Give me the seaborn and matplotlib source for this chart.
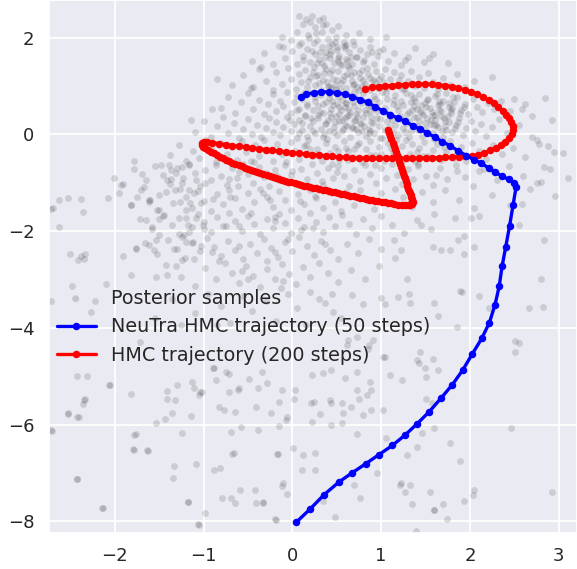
import numpy as np
import matplotlib
matplotlib.use("Agg")
import matplotlib.pyplot as plt
import seaborn as sns

# ---------------- data ----------------
samples_top = [(0.08,2.44),(0.15,2.38),(0.22,2.45),(0.30,2.36),(0.38,2.28),(0.12,2.28),(0.25,2.22),(0.45,2.15),(0.05,2.12),(0.33,2.12),(0.52,2.24),(0.18,2.05),(0.40,1.98),(0.60,2.05),(0.28,1.95),(-0.02,1.95),(0.68,1.94),(0.48,1.92),(0.10,1.90),(0.75,2.10),(0.58,1.92),(0.20,2.32),(0.35,2.40),(0.88,1.98),(-0.12,2.02),(1.05,2.02)]

samples_upper = [(-0.45,1.52),(-0.32,1.68),(-0.22,1.45),(-0.15,1.82),(-0.08,1.58),(0.00,1.72),(0.05,1.45),(0.08,1.85),(0.12,1.62),(0.16,1.76),(0.20,1.50),(0.24,1.88),(0.26,1.66),(0.30,1.55),(0.33,1.80),(0.36,1.42),(0.38,1.70),(0.42,1.58),(0.45,1.86),(0.47,1.48),(0.50,1.74),(0.53,1.62),(0.56,1.44),(0.58,1.82),(0.61,1.55),(0.64,1.70),(0.67,1.46),(0.70,1.84),(0.73,1.60),(0.76,1.74),(0.80,1.50),(0.84,1.66),(0.88,1.80),(0.92,1.45),(0.96,1.62),(1.02,1.76),(1.08,1.52),(1.15,1.68),(1.22,1.44),(1.30,1.60),(1.38,1.78),(1.48,1.50),(1.58,1.66),(0.28,1.48),(0.52,1.52),(0.43,1.66),(0.66,1.60),(0.22,1.72),(0.12,1.54),(0.90,1.70),(1.75,1.48),
    (-0.68,1.02),(-0.55,1.22),(-0.46,0.95),(-0.38,1.35),(-0.30,1.10),(-0.22,0.92),(-0.18,1.28),(-0.12,1.05),(-0.05,1.38),(-0.02,1.15),(0.04,0.94),(0.07,1.25),(0.10,1.08),(0.14,1.34),(0.17,0.98),(0.20,1.18),(0.23,1.30),(0.26,1.02),(0.29,1.22),(0.32,0.92),(0.35,1.12),(0.38,1.36),(0.40,1.00),(0.43,1.26),(0.46,1.14),(0.49,0.94),(0.52,1.32),(0.55,1.06),(0.58,1.20),(0.61,0.96),(0.64,1.38),(0.67,1.10),(0.70,1.28),(0.73,0.98),(0.76,1.16),(0.79,1.34),(0.82,1.04),(0.85,1.24),(0.88,0.92),(0.91,1.12),(0.94,1.32),(0.97,1.00),(1.00,1.20),(1.04,1.36),(1.07,0.96),(1.10,1.14),(1.14,1.28),(1.18,1.02),(1.22,1.22),(1.26,0.94),(1.30,1.10),(1.34,1.32),(1.38,1.00),(1.43,1.18),(1.48,0.96),(1.53,1.26),(1.58,1.08),(1.64,0.94),(1.70,1.16),(1.78,1.02),(1.86,1.24),(1.95,0.98),(2.05,1.10),(0.30,1.06),(0.50,1.12),(0.62,1.24),(0.80,1.12),(0.18,1.10),(0.98,1.14),(1.20,1.12),(0.44,0.96),(0.68,1.02),(-0.85,1.15),(2.25,1.18),
    (-0.44,0.98),(-0.35,1.39),(-0.10,1.80),(0.50,1.80),(0.60,1.84),(0.98,1.73),(1.02,1.09),(1.27,1.54),(1.54,1.58)]

samples_core = [(-0.80,0.55),(-0.72,0.78),(-0.64,0.45),(-0.58,0.68),(-0.50,0.86),(-0.44,0.52),(-0.38,0.72),(-0.32,0.42),(-0.27,0.62),(-0.22,0.84),(-0.18,0.48),(-0.14,0.70),(-0.10,0.58),(-0.06,0.88),(-0.02,0.44),(0.02,0.66),(0.05,0.80),(0.08,0.52),(0.11,0.74),(0.14,0.41),(0.17,0.62),(0.20,0.86),(0.23,0.50),(0.26,0.70),(0.29,0.58),(0.32,0.82),(0.35,0.44),(0.38,0.66),(0.41,0.76),(0.44,0.52),(0.47,0.88),(0.50,0.62),(0.53,0.42),(0.56,0.72),(0.59,0.56),(0.62,0.84),(0.65,0.46),(0.68,0.68),(0.71,0.78),(0.74,0.50),(0.77,0.64),(0.80,0.86),(0.83,0.44),(0.86,0.70),(0.89,0.58),(0.92,0.80),(0.95,0.48),(0.98,0.66),(1.01,0.88),(1.04,0.54),(1.07,0.74),(1.10,0.42),(1.13,0.62),(1.16,0.82),(1.19,0.50),(1.22,0.70),(1.25,0.60),(1.28,0.86),(1.31,0.46),(1.34,0.66),(1.37,0.76),(1.40,0.52),(1.43,0.84),(1.46,0.44),(1.49,0.64),(1.52,0.72),(1.55,0.54),(1.58,0.40),(1.61,0.80),(1.64,0.60),(1.67,0.48),(1.70,0.70),(1.73,0.86),(1.76,0.56),(1.79,0.44),(1.82,0.66),(1.86,0.78),(1.90,0.50),(1.94,0.62),(1.98,0.42),(2.03,0.74),(2.08,0.56),(2.14,0.46),(2.20,0.64),(2.27,0.52),(2.35,0.70),(2.45,0.48),(2.62,0.62),(2.85,0.75),(0.60,0.64),(0.70,0.58),(0.45,0.70),(1.50,0.56),(1.65,0.70),(1.80,0.54),(0.55,0.50),(1.35,0.50),(0.85,0.60),
    (-1.10,0.05),(-1.00,0.28),(-0.92,-0.05),(-0.85,0.18),(-0.78,0.36),(-0.72,0.02),(-0.66,0.24),(-0.60,-0.08),(-0.55,0.12),(-0.50,0.32),(-0.45,0.00),(-0.40,0.20),(-0.35,-0.06),(-0.30,0.14),(-0.26,0.34),(-0.22,0.04),(-0.18,0.26),(-0.14,-0.02),(-0.10,0.16),(-0.06,0.36),(-0.02,0.06),(0.02,0.22),(0.05,-0.08),(0.08,0.30),(0.11,0.10),(0.14,0.38),(0.17,-0.04),(0.20,0.18),(0.23,0.28),(0.26,0.02),(0.29,0.34),(0.32,0.12),(0.35,-0.06),(0.38,0.24),(0.41,0.06),(0.44,0.36),(0.47,0.16),(0.50,-0.02),(0.53,0.28),(0.56,0.08),(0.59,0.20),(0.62,0.38),(0.65,-0.06),(0.68,0.14),(0.71,0.30),(0.74,0.04),(0.77,0.22),(0.80,0.36),(0.83,-0.04),(0.86,0.12),(0.89,0.26),(0.92,0.02),(0.95,0.34),(0.98,0.18),(1.01,-0.08),(1.04,0.10),(1.07,0.28),(1.10,0.38),(1.13,0.04),(1.16,0.20),(1.19,-0.02),(1.22,0.32),(1.25,0.14),(1.28,0.24),(1.31,-0.06),(1.34,0.06),(1.37,0.36),(1.40,0.18),(1.43,0.28),(1.46,-0.04),(1.49,0.12),(1.52,0.34),(1.55,0.22),(1.58,0.02),(1.61,0.30),(1.64,0.16),(1.67,0.38),(1.70,-0.06),(1.73,0.10),(1.76,0.26),(1.80,0.04),(1.84,0.20),(1.88,0.34),(1.92,-0.02),(1.96,0.14),(2.01,0.28),(2.06,0.06),(2.12,0.22),(2.18,-0.04),(2.25,0.16),(2.33,0.32),(2.42,0.02),(2.55,0.20),(2.70,-0.05),(0.62,0.18),(0.48,0.26),(0.72,0.12),(1.72,0.28),(1.62,0.20),(0.40,0.30),(0.88,0.08),
    (-1.14,0.30),(-0.91,0.53),(2.93,0.30),(2.50,0.74),(2.59,0.53),(2.70,0.38)]

samples_dense = [(0.31,0.47),(0.37,0.21),(0.43,0.83),(0.49,0.39),(0.57,0.11),(0.63,0.53),(0.69,0.27),(0.75,0.91),(0.81,0.17),(0.87,0.49),(0.93,0.73),(0.99,0.31),(0.34,0.63),(0.41,0.97),(0.47,0.05),(0.53,0.57),(0.59,0.33),(0.66,0.79),(0.72,0.43),(0.78,0.07),(0.84,0.67),(0.91,0.23),(0.97,0.95),(0.36,0.01),(0.42,0.45),(0.51,0.77),(0.56,0.29),(0.61,0.65),(0.67,0.15),(0.73,0.37),(0.79,0.71),(0.86,0.03),(0.92,0.55),(0.46,0.61),(0.54,0.93),(0.64,0.41),(0.70,0.87),(0.76,0.23),(0.82,0.51),(0.89,0.35),
    (1.31,0.27),(1.37,0.59),(1.42,0.09),(1.47,0.41),(1.53,0.73),(1.59,0.19),(1.65,0.51),(1.71,0.33),(1.77,0.65),(1.83,0.13),(1.89,0.45),(1.34,0.81),(1.40,0.35),(1.45,0.61),(1.51,0.03),(1.57,0.47),(1.63,0.83),(1.69,0.07),(1.75,0.39),(1.81,0.77),(1.87,0.25),(1.93,0.57),(1.44,0.49),(1.56,0.29),(1.66,0.63),(1.72,0.17),(1.79,0.51),(1.61,0.41),(1.49,0.23),(1.38,0.69),
    (1.03,0.47),(1.09,0.15),(1.15,0.71),(1.21,0.39),(1.27,0.05),(1.06,0.85),(1.12,0.29),(1.18,0.59),(1.24,0.93),(1.29,0.43),
    (0.27,1.21),(0.33,1.47),(0.39,1.09),(0.45,1.33),(0.51,1.57),(0.57,1.13),(0.63,1.41),(0.69,1.05),(0.75,1.27),(0.81,1.53),(0.87,1.17),(0.24,1.39),(0.36,1.27),(0.48,1.03),(0.54,1.45),(0.66,1.23),(0.72,1.61),(0.78,1.01),(0.84,1.37),(0.93,1.09),(0.31,1.71),(0.41,1.83),(0.49,2.01),(0.27,2.09),(0.37,1.61),(0.59,1.79),(0.19,1.99),(0.35,2.27),(0.44,1.73),(0.62,1.51),
    (0.11,0.23),(0.17,0.59),(0.23,0.07),(0.29,0.41),(0.05,0.51),(0.13,0.85),(0.21,0.33),(0.26,0.77),(-0.03,0.29),(0.07,0.03),
    (0.15,-0.21),(0.27,-0.41),(0.39,-0.09),(0.51,-0.35),(0.63,-0.53),(0.75,-0.17),(0.87,-0.43),(0.99,-0.07),(1.11,-0.29),(1.23,-0.55),(1.35,-0.19),(1.47,-0.45),(1.59,-0.09),(1.71,-0.27),(1.83,-0.49),(0.45,-0.61),(0.69,-0.31),(0.93,-0.63),(1.17,-0.11),(1.41,-0.61),
    (-0.33,-1.21),(-0.47,-1.63),(-0.61,-1.07),(-0.75,-1.89),(-0.89,-1.33),(-1.03,-2.31),(-0.19,-1.71),(-0.05,-2.17),(0.09,-1.37),(0.23,-1.93),(0.37,-2.27),(-0.83,-2.61),(-0.57,-2.83),(-0.29,-2.61),(-0.13,-3.17),(-0.71,-0.93),(-0.43,-0.57),(-0.17,-0.87),(0.33,-0.97),(0.61,-1.19)]

samples_mid = [(-1.38,-0.42),(-1.28,-0.22),(-1.20,-0.55),(-1.12,-0.34),(-1.05,-0.48),(-0.98,-0.12),(-0.92,-0.30),(-0.86,-0.58),(-0.80,-0.18),(-0.74,-0.40),(-0.68,-0.26),(-0.62,-0.52),(-0.57,-0.14),(-0.52,-0.36),(-0.47,-0.56),(-0.42,-0.22),(-0.37,-0.44),(-0.32,-0.12),(-0.27,-0.32),(-0.22,-0.54),(-0.17,-0.20),(-0.12,-0.40),(-0.07,-0.58),(-0.02,-0.16),(0.03,-0.34),(0.08,-0.50),(0.13,-0.24),(0.18,-0.12),(0.23,-0.44),(0.28,-0.30),(0.33,-0.56),(0.38,-0.18),(0.43,-0.38),(0.48,-0.26),(0.53,-0.52),(0.58,-0.14),(0.63,-0.34),(0.68,-0.46),(0.73,-0.22),(0.78,-0.58),(0.83,-0.30),(0.88,-0.14),(0.93,-0.42),(0.98,-0.26),(1.03,-0.54),(1.08,-0.18),(1.13,-0.36),(1.18,-0.48),(1.23,-0.24),(1.28,-0.12),(1.33,-0.40),(1.38,-0.56),(1.43,-0.28),(1.48,-0.16),(1.53,-0.44),(1.58,-0.32),(1.63,-0.20),(1.68,-0.52),(1.73,-0.36),(1.78,-0.14),(1.84,-0.42),(1.90,-0.26),(1.96,-0.56),(2.02,-0.18),(2.10,-0.34),(2.18,-0.50),(2.26,-0.22),(2.36,-0.40),(2.48,-0.28),(2.62,-0.46),(2.78,-0.20),(2.95,-0.36),(0.60,-0.28),(0.20,-0.30),(1.00,-0.40),(1.40,-0.36),
    (2.76,-0.11),(2.88,-0.23),(3.05,-0.38),(2.84,-0.68),
    (-1.78,-0.72),(-1.65,-0.95),(-1.55,-0.66),(-1.46,-0.84),(-1.38,-1.02),(-1.30,-0.70),(-1.23,-0.90),(-1.16,-0.62),(-1.10,-0.80),(-1.04,-1.06),(-0.98,-0.74),(-0.92,-0.94),(-0.86,-0.64),(-0.80,-0.86),(-0.74,-1.04),(-0.68,-0.70),(-0.62,-0.90),(-0.56,-0.62),(-0.50,-0.82),(-0.44,-1.00),(-0.38,-0.68),(-0.32,-0.88),(-0.26,-1.06),(-0.20,-0.74),(-0.14,-0.94),(-0.08,-0.64),(-0.02,-0.84),(0.04,-1.02),(0.10,-0.72),(0.16,-0.92),(0.22,-0.62),(0.28,-0.80),(0.34,-1.04),(0.40,-0.70),(0.46,-0.90),(0.52,-0.66),(0.58,-0.86),(0.64,-1.06),(0.70,-0.74),(0.76,-0.96),(0.82,-0.64),(0.88,-0.82),(0.94,-1.00),(1.00,-0.70),(1.06,-0.90),(1.12,-0.62),(1.18,-0.84),(1.24,-1.02),(1.30,-0.72),(1.36,-0.92),(1.42,-0.66),(1.50,-0.86),(1.58,-1.04),(1.66,-0.70),(1.74,-0.92),(1.84,-0.64),(1.94,-0.88),(2.04,-1.06),(2.16,-0.72),(2.30,-0.94),(2.44,-0.66),(2.60,-0.86),(2.75,-1.00),(2.90,-0.72),(-0.60,-0.78),(0.00,-0.76),(0.50,-0.78),(-0.30,-0.80),
    (1.62,-0.83),(1.85,-0.75),(2.10,-0.75),(2.26,-0.75),(3.11,-0.90),(2.80,-0.98)]

samples_lower = [(-1.95,-1.22),(-1.82,-1.45),(-1.70,-1.15),(-1.60,-1.35),(-1.50,-1.56),(-1.42,-1.20),(-1.34,-1.42),(-1.27,-1.12),(-1.20,-1.30),(-1.13,-1.52),(-1.06,-1.18),(-0.99,-1.38),(-0.92,-1.58),(-0.85,-1.24),(-0.78,-1.44),(-0.71,-1.14),(-0.64,-1.32),(-0.57,-1.54),(-0.50,-1.22),(-0.43,-1.40),(-0.36,-1.12),(-0.29,-1.30),(-0.22,-1.50),(-0.15,-1.18),(-0.08,-1.36),(-0.01,-1.56),(0.06,-1.24),(0.13,-1.44),(0.20,-1.14),(0.27,-1.32),(0.34,-1.52),(0.41,-1.20),(0.48,-1.40),(0.55,-1.58),(0.62,-1.26),(0.69,-1.46),(0.76,-1.16),(0.84,-1.34),(0.92,-1.54),(1.00,-1.22),(1.08,-1.42),(1.16,-1.12),(1.25,-1.30),(1.35,-1.50),(1.46,-1.20),(1.58,-1.40),(1.72,-1.16),(1.88,-1.36),(2.05,-1.52),(2.25,-1.26),(2.45,-1.46),(-1.15,-1.42),(-0.70,-1.30),(-0.25,-1.36),(0.25,-1.28),
    (2.96,-1.28),(2.68,-1.13),(2.59,-1.43),(2.55,-1.88),(2.84,-2.18),(2.10,-1.69),(2.05,-2.33),(1.93,-2.48),(1.60,-1.65),(1.45,-1.88),(1.83,-1.73),(2.01,-1.73),(1.93,-2.10),(1.87,-2.18),(1.78,-2.40),(1.68,-2.40),(1.58,-2.33),(1.22,-2.40),(1.14,-2.18),
    (-1.72,-1.75),(-1.58,-1.95),(-1.46,-1.68),(-1.36,-1.88),(-1.28,-2.06),(-1.20,-1.72),(-1.13,-1.92),(-1.06,-1.64),(-0.99,-1.82),(-0.92,-2.02),(-0.85,-1.70),(-0.78,-1.90),(-0.71,-1.62),(-0.64,-1.80),(-0.57,-2.00),(-0.50,-1.68),(-0.43,-1.86),(-0.36,-2.06),(-0.29,-1.74),(-0.22,-1.94),(-0.15,-1.64),(-0.08,-1.84),(-0.01,-2.04),(0.06,-1.72),(0.13,-1.92),(0.20,-1.62),(0.27,-1.82),(0.34,-2.02),(0.41,-1.70),(0.48,-1.90),(0.56,-1.66),(0.64,-1.86),(0.72,-2.06),(0.80,-1.74),(0.90,-1.94),(1.00,-1.68),(1.12,-1.88),(1.26,-2.04),(1.40,-1.76),(1.56,-1.96),(-1.00,-1.96),(-0.60,-1.90),(-0.20,-1.80),(0.10,-1.98),
    (-1.66,-2.24),(-1.52,-2.48),(-1.40,-2.18),(-1.30,-2.38),(-1.21,-2.56),(-1.12,-2.22),(-1.04,-2.42),(-0.96,-2.14),(-0.88,-2.32),(-0.80,-2.52),(-0.72,-2.20),(-0.64,-2.40),(-0.56,-2.58),(-0.48,-2.26),(-0.40,-2.46),(-0.32,-2.16),(-0.24,-2.34),(-0.16,-2.54),(-0.08,-2.22),(0.00,-2.42),(0.08,-2.12),(0.16,-2.30),(0.24,-2.50),(0.32,-2.20),(0.42,-2.40),(0.52,-2.58),(0.62,-2.26),(0.74,-2.46),(0.86,-2.16),(1.00,-2.36),(1.16,-2.56),(-0.60,-2.30),(-0.90,-2.44),(-0.20,-2.44),
    (-1.42,-2.70),(-1.25,-2.94),(-1.10,-3.14),(-0.98,-2.76),(-0.86,-2.98),(-0.76,-2.66),(-0.68,-2.86),(-0.60,-3.08),(-0.52,-2.72),(-0.44,-2.92),(-0.36,-3.16),(-0.28,-2.78),(-0.20,-2.98),(-0.12,-2.68),(-0.04,-2.88),(0.04,-3.10),(0.12,-2.74),(0.20,-2.94),(0.30,-2.66),(0.40,-2.86),(0.52,-3.06),(0.66,-2.80),(0.82,-3.00),(0.98,-2.72),(-0.50,-3.00),(-0.10,-3.04),(1.29,-3.00),(2.80,-3.00)]

samples_left = [(-2.63,-1.36),(-2.53,-1.32),(-2.38,-1.34),(-2.36,-1.60),(-2.70,-1.53),(-2.63,-1.92),(-2.08,-1.31),(-2.01,-0.90),(-1.91,-1.03),(-1.78,-0.54),(-1.69,-0.82),(-1.67,-1.08),(-1.82,-1.46),(-1.75,-1.29),(-1.61,-1.36),(-1.65,-1.77),(-1.52,-1.56),(-1.50,-1.74),(-1.44,-1.67),(-1.58,-1.91),(-1.50,-2.08),(-1.54,-2.18),(-1.76,-2.34),(-1.91,-2.51),(-1.61,-2.29),(-1.56,-2.39),(-2.50,-2.47),(-2.38,-2.51),(-2.35,-2.58),(-1.82,-2.91),(-1.54,-2.94),(-2.48,-3.13),(-2.10,-3.10),(-1.41,-2.91),(-1.31,-2.72),(-1.24,-2.60),(-1.11,-2.58),(-1.33,-2.36),(-1.24,-2.12),(-1.16,-2.01),(-1.13,-2.25),(-1.20,-2.22),
    (-2.72,-1.54),(-2.34,-2.48),(-2.41,-2.59),(-1.93,-1.05),(-1.76,-2.36),
    (-1.39,-0.63),(-1.37,-0.74),(-1.31,-0.80),(-1.24,-0.67),(-1.16,-0.63),(-1.37,-0.93),(-1.32,-1.16),(-1.24,-1.01),(-1.16,-1.15),(-1.09,-0.94),(-1.11,-1.22),(-1.03,-1.42),(-0.98,-1.01),(-1.26,-1.39),(-1.20,-1.56),(-1.28,-1.73),(-1.18,-1.87),(-1.09,-1.73),(-1.01,-1.87),(-1.22,-2.08),(-1.50,-1.25),(-1.41,-0.94),(-1.48,-0.63),(-1.61,-1.39)]

samples_tail = [(-1.35,-3.40),(-1.10,-3.70),(-0.95,-3.30),(-0.80,-3.55),(-0.70,-3.90),(-0.55,-3.35),(-0.45,-3.65),(-0.30,-3.45),(-0.18,-3.85),(-0.05,-3.30),(0.05,-3.60),(0.15,-3.95),(0.30,-3.40),(0.55,-3.80),(0.80,-3.50),(-1.55,-3.80),(-0.85,-3.95),(-1.25,-3.95),
    (0.20,-3.25),(0.45,-3.29),(0.67,-3.32),(1.04,-3.51),(1.19,-3.36),(1.33,-3.49),(1.59,-3.49),(0.46,-3.67),(0.37,-3.49),(-2.27,-3.67),(-2.72,-3.45),(-2.45,-3.38),(-2.22,-3.45),
    (2.51,-4.28),(2.55,-4.31),(2.51,-4.50),(2.46,-6.08),(2.93,-7.39),(2.05,-7.35),(2.03,-7.46),(2.66,-3.60),(2.82,-3.56),(1.89,-3.23),(1.91,-3.26),(2.10,-3.34),(2.22,-3.60),(1.85,-3.98),(1.64,-3.75),(1.58,-4.65),(1.43,-4.73),(1.64,-4.88),(1.51,-5.48),(1.78,-6.38),(1.89,-6.75),(1.93,-7.58),(1.70,-7.65),(1.74,-7.95),(1.39,-8.21),(1.35,-7.65),(1.22,-7.20),(1.60,-7.77),(1.31,-3.30),(1.00,-3.38),
    (-2.42,-5.00),(-2.31,-5.00),(-2.06,-5.18),(-2.35,-5.49),(-2.36,-5.57),(-2.53,-5.77),(-2.40,-5.85),(-2.71,-6.13),(-1.82,-5.37),(-1.71,-4.29),(-1.78,-6.22),(-1.79,-6.51),(-1.63,-6.54),(-2.43,-7.12),(-2.13,-7.72),(-1.53,-5.97),(-1.41,-5.30),(-1.30,-5.18),(-1.32,-5.49),(-1.35,-5.77),(-1.24,-6.18),(-1.14,-5.82),(-1.33,-6.85),(-1.34,-7.10),(-1.08,-6.82),(-1.18,-7.60),(-0.98,-7.82),(-1.05,-8.08),(-1.13,-5.13),(-1.11,-5.25),(-1.02,-5.32),(-1.05,-5.39),(-0.88,-4.84),(-0.86,-5.08),(-0.75,-4.91),(-0.71,-4.95),(-0.83,-5.63),(-0.77,-5.70),(-0.69,-6.15),(-0.66,-6.59),(-0.88,-6.93),(-0.79,-7.52),(-0.69,-7.52),(-0.64,-7.63),(-0.59,-7.35),(-0.42,-7.35),(-0.41,-7.62),(-0.33,-7.62),(-0.49,-5.06),(-0.61,-5.29),(-0.28,-5.15),(-0.12,-5.29),(-0.15,-5.53),(-0.24,-5.77),(-0.06,-5.84),(-0.15,-6.04),(-0.07,-5.91),(-0.16,-6.61),(-0.11,-7.21),(-0.18,-7.97),(-0.34,-4.91),
    (-2.53,-5.78),(-2.43,-5.85),(-2.34,-5.48),(-2.72,-6.11),(-2.05,-5.18),(-2.43,-7.13),(-2.14,-7.73),(-1.76,-6.19),(-1.64,-6.53),(-1.78,-6.53),(-1.41,-5.48),(-1.43,-5.89),(-1.18,-7.61),(-1.06,-8.06),(-1.04,-5.33),(-0.89,-4.84),(-0.71,-5.33),(-0.64,-5.74),(-0.60,-5.25),(-0.39,-5.25),(-0.41,-5.63),(-0.58,-6.05),(-0.39,-6.11),(-0.17,-6.60),(-0.12,-7.28),(-0.06,-7.43),(-0.19,-7.95),(-0.33,-7.61),(-0.68,-6.60),(-0.81,-6.90),(0.35,-7.58),
    (0.02,-5.48),(0.21,-5.55),(0.31,-5.78),(0.44,-5.55),(0.56,-5.96),(0.66,-5.63),(0.75,-5.48),(0.89,-5.29),(1.02,-4.61),(0.85,-4.43),(0.62,-4.35),
    (0.63,-4.25),(0.73,-4.18),(0.86,-4.35),(0.91,-4.25),(1.44,-4.49),(1.40,-4.66),(1.51,-5.01),(1.04,-4.60),(1.10,-4.98),(1.23,-5.08),(0.87,-5.11),(0.73,-4.91),(0.59,-5.04),(0.44,-4.87),(0.35,-4.94),(0.22,-4.98),(0.03,-5.29),(0.24,-5.53),(0.42,-5.49),(0.56,-5.56),(0.57,-5.77),(0.89,-5.70),(0.80,-5.80),(0.84,-5.39),(0.73,-5.29),(1.02,-5.70),(0.44,-6.01),(0.73,-6.20),(1.06,-6.28),(0.22,-5.94),(0.01,-6.49),(0.12,-6.63),(0.26,-6.59),(0.11,-6.94),(0.26,-6.94),(0.69,-7.25),(0.76,-7.52),(0.95,-7.01),(1.21,-7.25),(1.27,-7.39),(1.33,-7.25),(1.29,-6.63),(1.40,-6.46),(1.55,-7.39),(1.59,-7.77),(0.48,-7.91),(1.46,-6.18),(1.59,-6.08),(1.57,-5.56),(1.49,-4.84)]

neutra_traj = [(0.094,0.77),(0.158,0.83),(0.241,0.86),(0.328,0.88),(0.415,0.88),(0.498,0.86),(0.589,0.83),(0.675,0.78),(0.762,0.72),(0.853,0.66),(0.935,0.57),(1.019,0.49),(1.102,0.41),(1.185,0.34),(1.272,0.27),(1.355,0.18),(1.438,0.11),(1.520,0.03),(1.608,-0.06),(1.690,-0.15),(1.780,-0.24),(1.870,-0.34),(1.960,-0.44),(2.045,-0.52),(2.130,-0.60),(2.210,-0.69),(2.283,-0.78),(2.367,-0.87),(2.440,-0.93),(2.500,-1.00),(2.520,-1.09),(2.487,-1.45),(2.446,-1.90),(2.404,-2.32),(2.362,-2.73),(2.330,-3.14),(2.283,-3.52),(2.220,-3.89),(2.133,-4.22),(2.027,-4.54),(1.917,-4.88),(1.800,-5.18),(1.672,-5.46),(1.544,-5.73),(1.408,-5.98),(1.268,-6.22),(1.128,-6.43),(0.977,-6.62),(0.827,-6.81),(0.672,-7.00),(0.524,-7.19),(0.358,-7.45),(0.204,-7.74),(0.045,-8.02)]

hmc_traj = [(1.081,0.09),(1.092,0.03),(1.105,-0.04),(1.116,-0.10),(1.129,-0.17),(1.140,-0.23),(1.153,-0.30),(1.164,-0.36),(1.175,-0.42),(1.188,-0.49),(1.199,-0.55),(1.210,-0.61),(1.221,-0.67),(1.232,-0.73),(1.244,-0.79),(1.255,-0.85),(1.266,-0.91),(1.275,-0.96),(1.287,-1.02),(1.296,-1.07),(1.305,-1.12),(1.315,-1.17),(1.324,-1.22),(1.332,-1.26),(1.340,-1.30),(1.348,-1.34),(1.352,-1.37),(1.354,-1.40),
    (1.350,-1.430),(1.330,-1.452),(1.300,-1.462),(1.265,-1.463),(1.230,-1.458),(1.190,-1.450),
    (1.145,-1.439),(1.110,-1.428),(1.075,-1.417),(1.040,-1.405),(1.005,-1.394),(0.970,-1.383),(0.935,-1.371),(0.900,-1.359),(0.865,-1.347),(0.830,-1.334),(0.795,-1.322),(0.760,-1.310),(0.725,-1.296),(0.690,-1.283),(0.655,-1.269),(0.620,-1.255),(0.585,-1.241),(0.550,-1.228),(0.515,-1.214),(0.480,-1.200),(0.445,-1.186),(0.410,-1.172),(0.375,-1.158),(0.340,-1.144),(0.305,-1.130),(0.270,-1.116),(0.235,-1.102),(0.200,-1.088),(0.165,-1.074),(0.130,-1.060),(0.095,-1.045),(0.060,-1.028),(0.025,-1.011),(-0.010,-0.993),(-0.045,-0.976),(-0.080,-0.959),(-0.115,-0.942),(-0.150,-0.922),(-0.185,-0.902),(-0.220,-0.882),(-0.255,-0.862),(-0.290,-0.842),(-0.325,-0.821),(-0.360,-0.800),(-0.395,-0.778),(-0.430,-0.756),(-0.465,-0.734),(-0.500,-0.711),(-0.535,-0.689),(-0.570,-0.662),(-0.605,-0.636),(-0.640,-0.610),(-0.675,-0.584),(-0.710,-0.558),(-0.745,-0.527),(-0.780,-0.494),(-0.815,-0.462),(-0.850,-0.429),(-0.885,-0.395),(-0.920,-0.361),(-0.955,-0.327),(-0.985,-0.290),
    (-1.005,-0.255),(-1.020,-0.220),(-1.020,-0.185),(-1.000,-0.160),(-0.960,-0.155),
    (-0.900,-0.170),(-0.825,-0.190),(-0.750,-0.212),(-0.675,-0.230),(-0.600,-0.247),(-0.525,-0.263),(-0.450,-0.280),(-0.375,-0.297),(-0.300,-0.313),(-0.225,-0.330),(-0.150,-0.347),(-0.075,-0.363),(0.000,-0.378),(0.075,-0.392),(0.150,-0.405),(0.225,-0.418),(0.300,-0.431),(0.375,-0.444),(0.450,-0.456),(0.525,-0.466),(0.600,-0.476),(0.675,-0.483),(0.750,-0.489),(0.825,-0.492),(0.900,-0.494),(0.975,-0.495),(1.050,-0.495),(1.125,-0.495),(1.200,-0.494),(1.275,-0.493),(1.350,-0.492),(1.425,-0.490),(1.500,-0.488),(1.575,-0.485),(1.650,-0.481),(1.725,-0.477),(1.800,-0.472),(1.875,-0.465),(1.950,-0.457),
    (2.020,-0.440),(2.090,-0.420),(2.160,-0.380),(2.230,-0.330),(2.290,-0.280),(2.350,-0.220),(2.400,-0.150),(2.440,-0.070),(2.470,0.010),(2.480,0.090),(2.480,0.170),(2.465,0.250),(2.440,0.330),(2.410,0.410),(2.370,0.490),(2.320,0.570),(2.270,0.640),(2.210,0.710),(2.150,0.770),(2.080,0.830),(2.010,0.880),(1.940,0.920),(1.870,0.960),(1.800,0.990),(1.720,1.010),(1.645,1.025),(1.570,1.035),(1.495,1.040),(1.420,1.040),(1.345,1.040),(1.270,1.030),(1.195,1.020),(1.120,1.010),(1.045,1.000),(0.975,0.990),(0.900,0.970),(0.820,0.940)]

x_ticks = [-2, -1, 0, 1, 2, 3]
y_ticks = [2, 0, -2, -4, -6, -8]
labels = ["Posterior samples", "NeuTra HMC trajectory (50 steps)", "HMC trajectory (200 steps)"]

# ---------------- plotting ----------------
sns.set_theme(style="darkgrid", rc={"grid.linewidth": 1.3})
plt.rcParams["font.family"] = ["DejaVu Sans"]

fig = plt.figure(figsize=(5.77, 5.69), dpi=100)
ax = fig.add_axes([49 / 577, 1 - 532.7 / 569, 528 / 577, 532.7 / 569])

samples = np.array(samples_top + samples_upper + samples_core + samples_dense + samples_mid
                   + samples_lower + samples_left + samples_tail)
sns.scatterplot(x=samples[:, 0], y=samples[:, 1], color="black", alpha=0.13,
                s=24, linewidth=0, ax=ax, label=labels[0], legend=False, zorder=2)

hmc = np.array(hmc_traj)
sns.lineplot(x=hmc[:, 0], y=hmc[:, 1], sort=False, estimator=None, color="red",
             marker="o", markersize=5.4, markeredgewidth=0, markeredgecolor="red",
             linewidth=2.4, ax=ax, label=labels[2], zorder=3)

neu = np.array(neutra_traj)
sns.lineplot(x=neu[:, 0], y=neu[:, 1], sort=False, estimator=None, color="blue",
             marker="o", markersize=5.4, markeredgewidth=0, markeredgecolor="blue",
             linewidth=2.4, ax=ax, label=labels[1], zorder=4)

ax.set_xlim(-2.74, 3.206)
ax.set_ylim(-8.236, 2.779)
ax.set_xticks(x_ticks)
ax.set_yticks(y_ticks)
ax.set_xticklabels([f"{t}".replace("-", "\u2212") for t in x_ticks])
ax.set_yticklabels([f"{t}".replace("-", "\u2212") for t in y_ticks])
ax.tick_params(axis="both", labelsize=13, pad=10.5, length=0, labelcolor="#262626")
ax.set_xlabel("")
ax.set_ylabel("")

handles, labs = ax.get_legend_handles_labels()
hmap = dict(zip(labs, handles))
leg = ax.legend([hmap[l] for l in labels], labels, loc="upper left",
                bbox_to_anchor=(0.0, 0.4725), borderaxespad=0, frameon=False,
                fontsize=13.8, handlelength=2.05, labelspacing=0.5, numpoints=1)
for t in leg.get_texts():
    t.set_color("#262626")
try:
    leg.legend_handles[0].set_alpha(0.04)
except Exception:
    pass

fig.savefig("out.png", dpi=100)
